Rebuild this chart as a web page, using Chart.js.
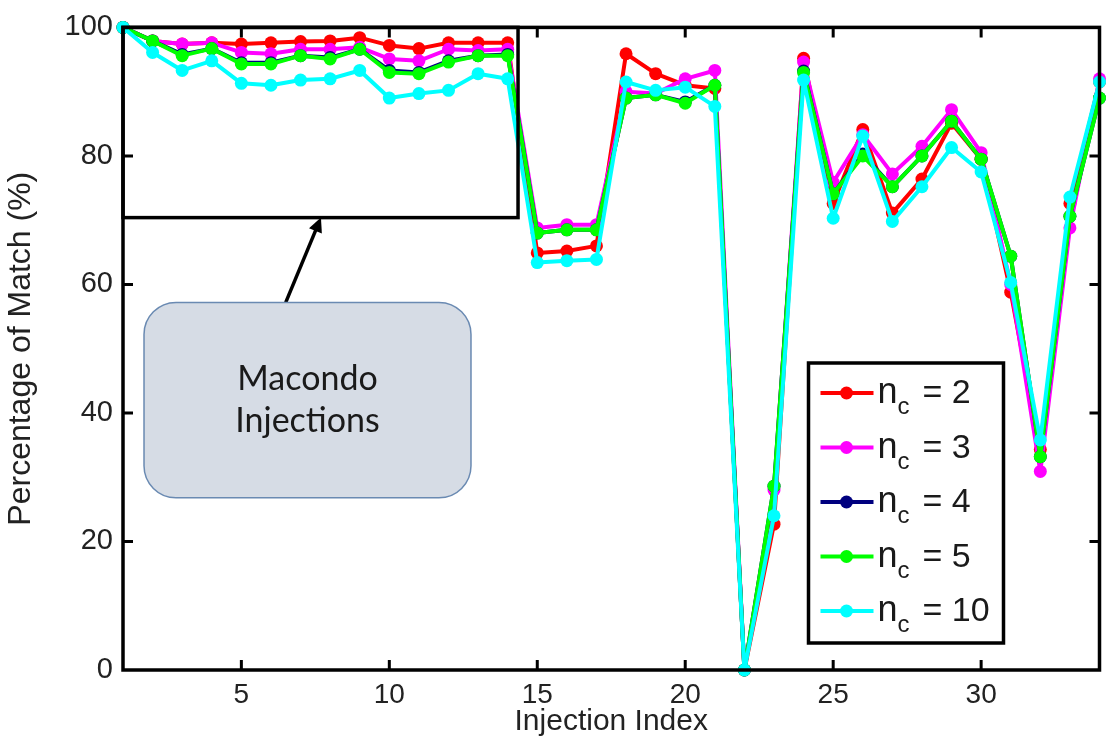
<!DOCTYPE html>
<html>
<head>
<meta charset="utf-8">
<script src="https://cdn.jsdelivr.net/npm/chart.js@4.4.0/dist/chart.umd.min.js"></script>
<style>
  html, body { margin: 0; padding: 0; background: #fff; }
  #wrap { width: 1106px; height: 744px; }
</style>
</head>
<body>
<div id="wrap"><canvas id="matchChart" width="1106" height="744"></canvas></div>
<script>
// === Data ===
const injectionIndex = [1, 2, 3, 4, 5, 6, 7, 8, 9, 10, 11, 12, 13, 14, 15, 16, 17,
  18, 19, 20, 21, 22, 23, 24, 25, 26, 27, 28, 29, 30, 31, 32, 33, 34];

const match_nc2 = [100, 97.9, 97.4, 97.6, 97.4, 97.6, 97.8, 97.9, 98.4, 97.2, 96.7, 97.6, 97.6, 97.6,
  64.9, 65.2, 66.0, 95.9, 92.8, 91.0, 90.5, 0, 22.7, 95.2, 72.6, 84.1, 71.1, 76.4, 85.1, 79.5,
  58.8, 34.3, 72.6, 91.5];
const match_nc3 = [100, 97.9, 97.4, 97.6, 96.1, 95.9, 96.6, 96.6, 96.9, 95.1, 94.8, 96.6, 96.4, 96.6,
  68.8, 69.3, 69.3, 90.0, 89.7, 92.0, 93.3, 0, 28.0, 94.6, 75.9, 83.3, 77.2, 81.5, 87.2, 80.5,
  60.0, 30.9, 68.8, 92.0];
const match_nc4 = [100, 97.9, 95.8, 96.7, 94.5, 94.5, 95.6, 95.3, 96.6, 93.3, 93.0, 94.8, 95.6, 95.8,
  68.0, 68.5, 68.5, 89.0, 89.5, 88.4, 91.0, 0, 28.6, 93.2, 74.1, 80.3, 75.2, 80.0, 85.4, 79.5,
  64.4, 33.2, 70.6, 89.0];
const match_nc5 = [100, 97.9, 95.6, 96.7, 94.3, 94.3, 95.6, 95.1, 96.6, 93.0, 92.8, 94.6, 95.6, 95.6,
  68.0, 68.5, 68.5, 89.0, 89.5, 88.2, 91.0, 0, 28.6, 93.0, 74.1, 80.0, 75.2, 80.0, 85.4, 79.5,
  64.4, 33.2, 70.6, 89.0];
const match_nc10 = [100, 96.1, 93.3, 94.8, 91.3, 91.0, 91.8, 92.0, 93.3, 89.0, 89.7, 90.2, 92.8, 92.0,
  63.4, 63.7, 63.9, 91.5, 90.2, 90.7, 87.7, 0, 24.0, 91.8, 70.3, 83.1, 69.8, 75.2, 81.3, 77.5,
  60.3, 35.8, 73.6, 91.5];

const seriesLabels = ['2', '3', '4', '5', '10'];
const seriesColors = ['#ff0000', '#ff00ff', '#00007f', '#00ff00', '#00ffff'];
const xTicks = [5, 10, 15, 20, 25, 30];
const yTicks = [0, 20, 40, 60, 80, 100];

const FONT = '"Liberation Sans", Arial, sans-serif';

// === Annotations, in data units ===
const insetBox = { x0: 1, x1: 14.35, y0: 70.4, y1: 100 };
const noteBox = { x0: 1.71, x1: 12.76, y0: 26.8, y1: 57.2, lines: ['Macondo', 'Injections'] };
const arrow = { fromX: 6.5, fromY: 57.2, toX: 7.69, toY: 70.4 };

const allSeries = [match_nc2, match_nc3, match_nc4, match_nc5, match_nc10];
const datasets = allSeries.map((vals, i) => ({
  label: 'n_c = ' + seriesLabels[i],
  data: vals.map((v, k) => ({ x: injectionIndex[k], y: v })),
  order: allSeries.length - 1 - i,   // later series on top (cyan last)
  borderColor: seriesColors[i],
  backgroundColor: seriesColors[i],
  pointBackgroundColor: seriesColors[i],
  pointBorderWidth: 0,
  pointRadius: 6.5,
  borderWidth: 4,
  borderJoinStyle: 'round',
  tension: 0,
  clip: false
}));

// ---------- frame, ticks, annotations, legend ----------
const decorPlugin = {
  id: 'decor',
  afterDatasetsDraw(chart) {
    const { ctx, chartArea: a, scales: { x, y } } = chart;
    ctx.save();

    // axes box + inward ticks
    ctx.strokeStyle = '#000';
    ctx.lineWidth = 3.5;
    ctx.strokeRect(a.left, a.top, a.right - a.left, a.bottom - a.top);
    ctx.lineWidth = 3;
    ctx.beginPath();
    xTicks.forEach(v => {
      const px = x.getPixelForValue(v);
      ctx.moveTo(px, a.bottom); ctx.lineTo(px, a.bottom - 10);
      ctx.moveTo(px, a.top); ctx.lineTo(px, a.top + 10);
    });
    yTicks.slice(1, -1).forEach(v => {
      const py = y.getPixelForValue(v);
      ctx.moveTo(a.left, py); ctx.lineTo(a.left + 10, py);
      ctx.moveTo(a.right, py); ctx.lineTo(a.right - 10, py);
    });
    ctx.stroke();

    // inset rectangle around Macondo injections
    const bx0 = x.getPixelForValue(insetBox.x0), bx1 = x.getPixelForValue(insetBox.x1);
    const by0 = y.getPixelForValue(insetBox.y0), by1 = y.getPixelForValue(insetBox.y1);
    ctx.lineWidth = 3.5;
    ctx.strokeRect(bx0, by1, bx1 - bx0, by0 - by1);

    // arrow
    const ax0 = x.getPixelForValue(arrow.fromX), ay0 = y.getPixelForValue(arrow.fromY);
    const ax1 = x.getPixelForValue(arrow.toX), ay1 = y.getPixelForValue(arrow.toY);
    const ang = Math.atan2(ay1 - ay0, ax1 - ax0);
    const head = 16;
    ctx.lineWidth = 3.5;
    ctx.beginPath();
    ctx.moveTo(ax0, ay0);
    ctx.lineTo(ax1 - Math.cos(ang) * head * 0.8, ay1 - Math.sin(ang) * head * 0.8);
    ctx.stroke();
    ctx.fillStyle = '#000';
    ctx.beginPath();
    ctx.moveTo(ax1, ay1);
    ctx.lineTo(ax1 - head * Math.cos(ang - 0.45), ay1 - head * Math.sin(ang - 0.45));
    ctx.lineTo(ax1 - head * Math.cos(ang + 0.45), ay1 - head * Math.sin(ang + 0.45));
    ctx.closePath();
    ctx.fill();

    // rounded note box
    const nx0 = x.getPixelForValue(noteBox.x0), nx1 = x.getPixelForValue(noteBox.x1);
    const ny0 = y.getPixelForValue(noteBox.y1), ny1 = y.getPixelForValue(noteBox.y0);
    ctx.beginPath();
    ctx.roundRect(nx0, ny0, nx1 - nx0, ny1 - ny0, 32);
    ctx.fillStyle = '#d6dce5';
    ctx.fill();
    ctx.strokeStyle = '#6a8ab2';
    ctx.lineWidth = 1.5;
    ctx.stroke();
    ctx.fillStyle = '#1a1a1a';
    ctx.font = '34px Lato, "Open Sans", sans-serif';
    ctx.textAlign = 'center';
    ctx.textBaseline = 'middle';
    const cx = (nx0 + nx1) / 2, cy = (ny0 + ny1) / 2;
    ctx.fillText(noteBox.lines[0], cx, cy - 21);
    ctx.fillText(noteBox.lines[1], cx, cy + 21);

    // legend with subscripts
    const lgW = 195, lgH = 280;
    const lgL = a.right - 96 - lgW, lgT = a.bottom - 27 - lgH;
    ctx.fillStyle = '#fff';
    ctx.fillRect(lgL, lgT, lgW, lgH);
    ctx.strokeStyle = '#000';
    ctx.lineWidth = 3.5;
    ctx.strokeRect(lgL, lgT, lgW, lgH);
    chart.data.datasets.forEach((ds, i) => {
      const ry = lgT + 30 + i * 54.5;
      ctx.strokeStyle = ds.borderColor;
      ctx.lineWidth = 4;
      ctx.beginPath();
      ctx.moveTo(lgL + 12, ry); ctx.lineTo(lgL + 65, ry);
      ctx.stroke();
      ctx.fillStyle = ds.borderColor;
      ctx.beginPath();
      ctx.arc(lgL + 38, ry, 6.5, 0, Math.PI * 2);
      ctx.fill();
      ctx.fillStyle = '#1a1a1a';
      ctx.textAlign = 'left';
      ctx.textBaseline = 'alphabetic';
      ctx.font = '36px ' + FONT;
      ctx.fillText('n', lgL + 69, ry + 10);
      ctx.font = '24px ' + FONT;
      ctx.fillText('c', lgL + 89, ry + 21);
      ctx.font = '34px ' + FONT;
      ctx.fillText('= ' + seriesLabels[i], lgL + 114, ry + 10);
    });

    ctx.restore();
  }
};

new Chart(document.getElementById('matchChart'), {
  type: 'line',
  data: { datasets },
  options: {
    responsive: false,
    animation: false,
    layout: { padding: { left: 0, right: 5, top: 18, bottom: 0 } },
    plugins: { legend: { display: false }, tooltip: { enabled: false } },
    scales: {
      x: {
        type: 'linear',
        min: 1,
        max: 34,
        afterFit: s => { s.height = 74; },
        afterBuildTicks: s => { s.ticks = xTicks.map(v => ({ value: v })); },
        grid: { display: false, drawTicks: false },
        border: { display: false },
        ticks: { color: '#222', padding: 8, font: { family: FONT, size: 28 } },
        title: {
          display: true,
          text: 'Injection Index',
          color: '#222',
          padding: { top: 0, bottom: 4 },
          font: { family: FONT, size: 30 }
        }
      },
      y: {
        min: 0,
        max: 100,
        afterFit: s => { s.width = 123; },
        afterBuildTicks: s => { s.ticks = yTicks.map(v => ({ value: v })); },
        grid: { display: false, drawTicks: false },
        border: { display: false },
        ticks: { color: '#222', padding: 10, font: { family: FONT, size: 29 } },
        title: {
          display: true,
          text: 'Percentage of Match (%)',
          color: '#222',
          padding: { top: 2, bottom: 0 },
          font: { family: FONT, size: 32 }
        }
      }
    }
  },
  plugins: [decorPlugin]
});
</script>
</body>
</html>
